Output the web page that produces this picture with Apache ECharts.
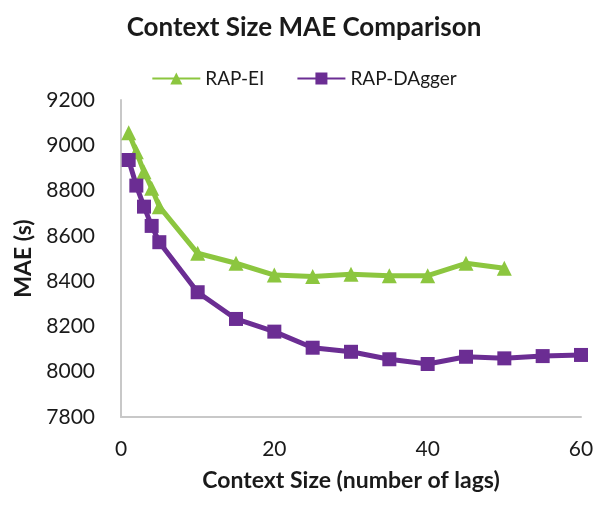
<!DOCTYPE html>
<html>
<head>
<meta charset="utf-8">
<script src="https://cdn.jsdelivr.net/npm/echarts@6/dist/echarts.min.js"></script>
<style>html,body{margin:0;padding:0;background:#fff}#c{width:608px;height:505px}</style>
</head>
<body>
<div id="c"></div>
<script>
const titleText = "Context Size MAE Comparison";
const xName = "Context Size (number of lags)";
const yName = "MAE (s)";
const seriesNames = ["RAP-EI", "RAP-DAgger"];
const xEI = [1, 2, 3, 4, 5, 10, 15, 20, 25, 30, 35, 40, 45, 50];
const yEI = [9055, 8972, 8883, 8810, 8729, 8523, 8479, 8427, 8420, 8430, 8424, 8424, 8479, 8457];
const xDA = [1, 2, 3, 4, 5, 10, 15, 20, 25, 30, 35, 40, 45, 50, 55, 60];
const yDA = [8935, 8822, 8729, 8644, 8572, 8351, 8233, 8177, 8106, 8088, 8055, 8034, 8066, 8059, 8069, 8074];
const xTicks = [0, 20, 40, 60];
const yTicks = [7800, 8000, 8200, 8400, 8600, 8800, 9000, 9200];

const font = "Lato, 'Open Sans', sans-serif";
const chart = echarts.init(document.getElementById('c'), null, {renderer: 'canvas'});
const pair = (xs, ys) => xs.map((x, i) => [x, ys[i]]);
chart.setOption({
  animation: false,
  title: {
    text: titleText, left: 'center', top: 10,
    textStyle: {fontFamily: font, fontWeight: 'bold', fontSize: 26, color: '#1a1a1a'}
  },
  legend: {
    top: 64, left: 'center', itemWidth: 48, itemHeight: 15, itemGap: 32,
    textStyle: {fontFamily: font, fontSize: 19, color: '#1a1a1a'},
    data: seriesNames
  },
  grid: {left: 121, right: 27, top: 100, bottom: 88},
  xAxis: {
    type: 'value', min: xTicks[0], max: xTicks[xTicks.length - 1], interval: 20,
    name: xName, nameLocation: 'middle', nameGap: 52,
    nameTextStyle: {fontFamily: font, fontWeight: 'bold', fontSize: 23, color: '#1a1a1a'},
    axisLine: {lineStyle: {color: '#c8c8c8', width: 2}},
    axisTick: {show: false},
    axisLabel: {fontFamily: font, fontSize: 21, color: '#1a1a1a', margin: 22},
    splitLine: {show: false}
  },
  yAxis: {
    type: 'value', min: yTicks[0], max: yTicks[yTicks.length - 1], interval: 200,
    name: yName, nameLocation: 'middle', nameGap: 80,
    nameTextStyle: {fontFamily: font, fontWeight: 'bold', fontSize: 23, color: '#1a1a1a'},
    axisLine: {show: true, lineStyle: {color: '#c8c8c8', width: 2}},
    axisTick: {show: false},
    axisLabel: {fontFamily: font, fontSize: 21, color: '#1a1a1a', margin: 26, formatter: v => String(v)},
    splitLine: {show: false}
  },
  series: [
    {
      name: seriesNames[0], type: 'line', data: pair(xEI, yEI),
      symbol: 'triangle', symbolSize: 15, showAllSymbol: true,
      lineStyle: {color: '#8cc63f', width: 5}, itemStyle: {color: '#8cc63f'}
    },
    {
      name: seriesNames[1], type: 'line', data: pair(xDA, yDA),
      symbol: 'rect', symbolSize: 14, showAllSymbol: true,
      lineStyle: {color: '#6b2d93', width: 5}, itemStyle: {color: '#6b2d93'}
    }
  ]
});
</script>
</body>
</html>
